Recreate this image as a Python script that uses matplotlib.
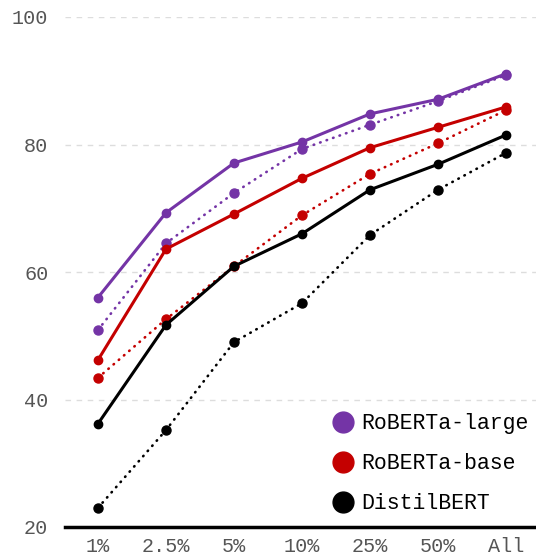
import matplotlib
matplotlib.use("Agg")
import matplotlib.pyplot as plt
from matplotlib.lines import Line2D

categories = ["1%", "2.5%", "5%", "10%", "25%", "50%", "All"]
large_solid = [56.0, 69.3, 77.1, 80.4, 84.8, 87.1, 91.1]
large_dotted = [50.9, 64.5, 72.4, 79.3, 83.1, 86.8, 90.9]
base_solid = [46.2, 63.6, 69.1, 74.7, 79.5, 82.7, 85.9]
base_dotted = [43.4, 52.6, 60.9, 68.9, 75.4, 80.2, 85.4]
distil_solid = [36.2, 51.7, 60.9, 66.0, 72.9, 76.9, 81.5]
distil_dotted = [23.0, 35.2, 49.0, 55.1, 65.8, 72.9, 78.7]
labels = ["RoBERTa-large", "RoBERTa-base", "DistilBERT"]
yticks = [20, 40, 60, 80, 100]

PURPLE = "#7434a6"
RED = "#c40000"
BLACK = "#000000"
FONT = "Liberation Mono"

fig = plt.figure(figsize=(5.36, 5.55), dpi=100)
ax = fig.add_axes([65/536, 1 - 527/555, (536 - 65)/536, (527 - 17)/555])

x = list(range(len(categories)))
series = [
    (large_solid, large_dotted, PURPLE),
    (base_solid, base_dotted, RED),
    (distil_solid, distil_dotted, BLACK),
]
for solid, dotted, c in series:
    ax.plot(x, dotted, color=c, lw=1.9, ls=(0, (0.2, 2.4)), dash_capstyle="round",
            marker="o", ms=6.5, zorder=3)
    ax.plot(x, solid, color=c, lw=2.2, ls="-", marker="o", ms=6, zorder=4)

ax.set_ylim(20, 100)
ax.set_xlim(-0.485, 6.44)
ax.set_xticks(x)
ax.set_xticklabels(categories)
ax.set_yticks(yticks)
ax.set_yticklabels([str(v) for v in yticks])
for lab in ax.get_xticklabels() + ax.get_yticklabels():
    lab.set_fontfamily(FONT)
    lab.set_fontsize(14.5)
    lab.set_color("#555555")
ax.tick_params(length=0)
ax.tick_params(axis="y", pad=12)
ax.tick_params(axis="x", pad=7)

for s in ["top", "right", "left"]:
    ax.spines[s].set_visible(False)
ax.spines["bottom"].set_linewidth(2.5)
ax.spines["bottom"].set_color("black")

ax.yaxis.grid(True, ls=(0, (4, 4)), color="#dddddd", lw=1)
ax.set_axisbelow(True)

handles = [Line2D([], [], ls="none", marker="o", ms=15, color=c)
           for c in (PURPLE, RED, BLACK)]
leg = ax.legend(handles, labels, loc="lower right", frameon=False,
                prop={"family": FONT, "size": 15.5}, handletextpad=0.25,
                labelspacing=0.88, borderaxespad=0.2, handlelength=1.2,
                bbox_to_anchor=(1.012, 0.0))

fig.savefig("out.png", dpi=100)
